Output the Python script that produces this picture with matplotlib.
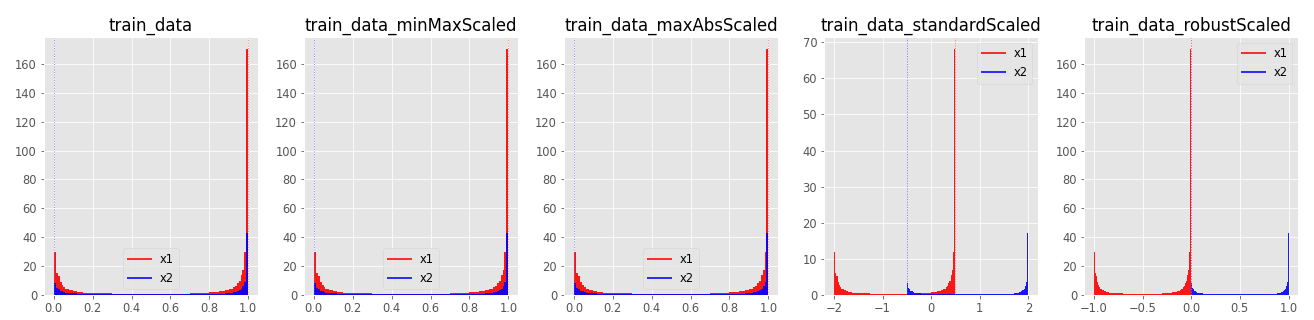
import matplotlib
matplotlib.use("Agg")
import matplotlib.pyplot as plt
from matplotlib.lines import Line2D
import numpy as np

plt.style.use("ggplot")
plt.rcParams["font.size"] = 11.5

# Histogram bin edges on the unit interval (train_data scale)
bin_edges = [0, .01, .02, .03, .04, .05, .06, .07, .08, .10, .12, .15, .2, .3, .4,
             .5, .6, .7, .8, .85, .88, .90, .92, .93, .94, .95, .96, .97, .98, .99, 1.0]

# Density heights of x1 and x2 on the unit interval
x1_density = [30, 15, 13, 9, 7, 5.5, 4.5, 4, 3.3, 2.6, 2.1, 1.6, 1.2, 1.0, 0.9,
              0.9, 1.0, 1.3, 1.8, 2.5, 3.3, 4.2, 5.5, 6.5, 8, 10, 14, 17, 30, 170]
x2_density = [8, 5, 4, 3, 2.5, 2, 1.7, 1.5, 1.3, 1.1, 0.9, 0.75, 0.6, 0.5, 0.45,
              0.45, 0.5, 0.6, 0.8, 1.0, 1.3, 1.6, 2.0, 2.4, 2.8, 3.5, 4.5, 6, 9, 43]

titles = ["train_data", "train_data_minMaxScaled", "train_data_maxAbsScaled",
          "train_data_standardScaled", "train_data_robustScaled"]
# (min, max) of each feature after each scaling
x1_ranges = [(0, 1), (0, 1), (0, 1), (-2, 0.5), (-1, 0)]
x2_ranges = [(0, 1), (0, 1), (0, 1), (-0.5, 2), (0, 1)]
legend_locs = ["lower center", "lower center", "lower center", "upper right", "upper right"]

fig, axes = plt.subplots(1, 5, figsize=(1314 / 72, 320 / 72), dpi=72)
fig.subplots_adjust(left=0.0335, right=0.988, top=0.884, bottom=0.078, wspace=0.215)

edges = np.array(bin_edges)
for ax, title, r1, r2, loc in zip(axes, titles, x1_ranges, x2_ranges, legend_locs):
    for dens, (lo, hi), col in ((x1_density, r1, "red"), (x2_density, r2, "blue")):
        w = hi - lo
        ax.stairs(np.array(dens) / w, lo + edges * w, fill=True, color=col,
                  alpha=0.9, linewidth=0)
    ax.axvline(r2[0], color=(0.35, 0.35, 1.0), ls=":", lw=1, alpha=0.7, zorder=2)
    ax.axvline(r1[1], color=(1.0, 0.35, 0.35), ls=":", lw=1, alpha=0.7, zorder=2)
    ax.set_title(title)
    handles = [Line2D([], [], color="red", lw=2, alpha=0.8, label="x1"),
               Line2D([], [], color="blue", lw=2, alpha=0.8, label="x2")]
    ax.legend(handles=handles, loc=loc)

fig.savefig("out.png", dpi=72)
